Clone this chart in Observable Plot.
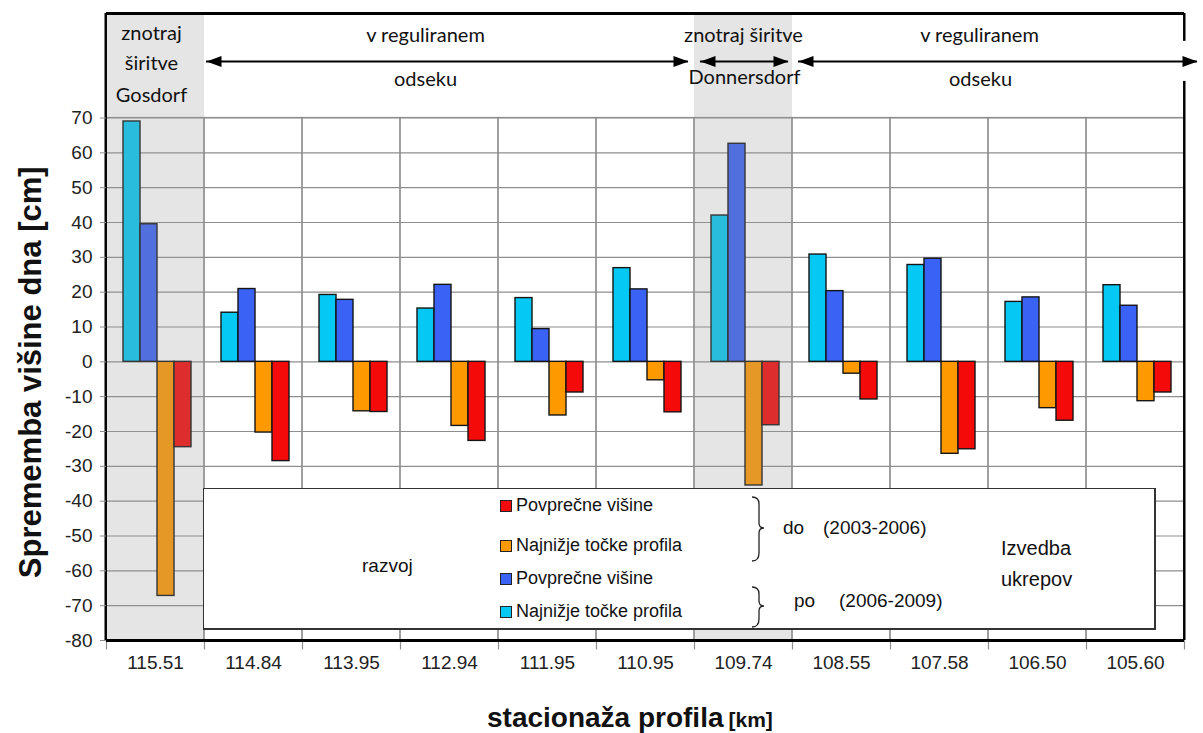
<!DOCTYPE html>
<html><head><meta charset="utf-8">
<script src="https://cdn.jsdelivr.net/npm/d3@7"></script>
<script src="https://cdn.jsdelivr.net/npm/@observablehq/plot@0.6"></script>
<style>
body{margin:0;background:#fff;}
#wrap{position:relative;width:1203px;height:733px;font-family:"Liberation Sans",Arial,sans-serif;color:#111;}
#wrap svg{position:absolute;left:0;top:0;}
#legend{position:absolute;left:203px;top:488px;width:953px;height:142px;background:#fff;border:1.5px solid #333;border-right-width:2.5px;border-bottom-width:2px;box-sizing:border-box;}
#legend .t{position:absolute;white-space:nowrap;font-size:18px;line-height:20px;}
#legend .sw{position:absolute;width:10px;height:10px;border:1px solid #222;}
#legend svg{position:absolute;}
</style></head>
<body><div id="wrap"><div id="legend"></div></div>
<script>
// ---- data ----
const stations = ["115.51","114.84","113.95","112.94","111.95","110.95","109.74","108.55","107.58","106.50","105.60"];
const seriesKeys = ["poNajnizje","poPovprecne","doNajnizje","doPovprecne"];
const seriesLabels = ["Najnižje točke profila","Povprečne višine","Najnižje točke profila","Povprečne višine"];
const seriesColors = ["#05c8f5","#3a62f5","#ff9900","#f50a0a"];
const poNajnizje  = [69.0, 14.1, 19.2, 15.3, 18.3, 26.9, 42.0, 30.8, 27.8, 17.2, 22.0];
const poPovprecne = [39.5, 20.9, 17.8, 22.1,  9.4, 20.8, 62.6, 20.3, 29.6, 18.5, 16.1];
const doNajnizje  = [-67.2, -20.3, -14.2, -18.4, -15.4, -5.3, -35.5, -3.4, -26.4, -13.3, -11.3];
const doPovprecne = [-24.5, -28.5, -14.4, -22.7, -8.8, -14.5, -18.2, -10.8, -25.1, -16.9, -8.8];
const yTicks = [-80,-70,-60,-50,-40,-30,-20,-10,0,10,20,30,40,50,60,70];
const shaded = ["115.51","109.74"];
const yTitle = "Sprememba višine dna [cm]";
const xTitle = "stacionaža profila";
const xUnit = "[km]";

const seriesValues = {poNajnizje, poPovprecne, doNajnizje, doPovprecne};
const table = stations.flatMap((s, i) => seriesKeys.map(k => ({station: s, series: k, value: seriesValues[k][i]})));

// ---- layout helpers ----
const W = 1203, H = 733, mL = 103, mR = 16, mT = 13, mB = 93;
const facetW = (W - mL - mR) / stations.length;
const headerFont = "Lato, 'Open Sans', sans-serif";
const arrowL = {draw(c){c.moveTo(0,0);c.lineTo(15,-5.5);c.lineTo(15,5.5);c.closePath();}};
const arrowR = {draw(c){c.moveTo(0,0);c.lineTo(-15,-5.5);c.lineTo(-15,5.5);c.closePath();}};
const vtick = {draw(c){c.moveTo(0,0);c.lineTo(0,9);}};
const grid = "#8e8e8e";
const arrowY = 86.2;

const headers = [
  {st:"115.51", text:"znotraj", y:94.3, dx:-4},
  {st:"115.51", text:"širitve", y:85.6, dx:-4},
  {st:"115.51", text:"Gosdorf", y:76.5, dx:-4},
  {st:"112.94", text:"v reguliranem", y:93.7, dx:-24},
  {st:"112.94", text:"odseku", y:81.0, dx:-24},
  {st:"109.74", text:"znotraj širitve", y:93.7, dx:0},
  {st:"109.74", text:"Donnersdorf", y:81.6, dx:1},
  {st:"106.50", text:"v reguliranem", y:93.7, dx:-58},
  {st:"106.50", text:"odseku", y:81.0, dx:-57}
];
const shafts = [
  {st:"114.84", l:2, r:0},{st:"113.95", l:0, r:0},{st:"112.94", l:0, r:0},{st:"111.95", l:0, r:0},{st:"110.95", l:0, r:6},
  {st:"109.74", l:6, r:4},
  {st:"108.55", l:6, r:0},{st:"107.58", l:0, r:0},{st:"106.50", l:0, r:0},{st:"105.60", l:0, r:-13}
];
const headsL = [{st:"114.84", dx:2},{st:"109.74", dx:6},{st:"108.55", dx:6}];
const headsR = [{st:"110.95", dx:-6},{st:"109.74", dx:-4},{st:"105.60", dx:13}];

const marks = [
  Plot.ruleY(yTicks, {stroke: grid, strokeWidth: 1.2}),
  Plot.rect(stations, {fx: d => d, y1: -80, y2: 70, stroke: grid, strokeWidth: 1.2, fill: "none"}),
  Plot.dot(stations, {fx: d => d, y: -80, frameAnchor: "left", symbol: vtick, stroke: grid, strokeWidth: 1.2, fill: "none"}),
  Plot.dot([stations[stations.length-1]], {fx: d => d, y: -80, frameAnchor: "right", symbol: vtick, stroke: grid, strokeWidth: 1.2, fill: "none"}),
  Plot.barY(table, {fx: "station", x: "series", y: "value", fill: "series", stroke: "#151515", strokeWidth: 1.4}),
  Plot.rect(shaded, {fx: d => d, y1: -80, y2: 100, fill: "#999", fillOpacity: 0.25}),
  Plot.ruleY([100], {stroke: "#000", strokeWidth: 3}),
  Plot.ruleY([-80], {stroke: "#000", strokeWidth: 3}),
  Plot.rect([stations[0]], {fx: d => d, y1: -80, y2: 100, fill: "#000", insetLeft: -1.5, insetRight: facetW - 1.5}),
  Plot.rect([[-80, 80.5], [92, 100]], {fx: () => stations[stations.length-1], y1: d => d[0], y2: d => d[1], fill: "#000", insetLeft: facetW - 1.5, insetRight: -1.5}),
  ...headers.map(h => Plot.text([h], {fx: d => d.st, y: "y", text: "text", dx: h.dx, fontSize: 20, fontFamily: headerFont, fill: "#111"})),
  ...shafts.map(s => Plot.ruleY([s], {fx: d => d.st, y: () => arrowY, insetLeft: s.l, insetRight: s.r, stroke: "#000", strokeWidth: 2})),
  ...headsL.map(h => Plot.dot([h], {fx: d => d.st, y: () => arrowY, frameAnchor: "left", dx: h.dx, symbol: arrowL, fill: "#000", stroke: "none"})),
  ...headsR.map(h => Plot.dot([h], {fx: d => d.st, y: () => arrowY, frameAnchor: "right", dx: h.dx, symbol: arrowR, fill: "#000", stroke: "none"})),
  Plot.axisY({ticks: yTicks, tickFormat: d => String(d), tickSize: 6, tickPadding: 8, fontSize: 19, stroke: grid, fill: "#222", label: null}),
  Plot.axisFx({anchor: "bottom", tickSize: 0, tickPadding: 15, fontSize: 19, fill: "#222", label: null}),
  Plot.text([yTitle], {fx: () => stations[0], y: () => -3, frameAnchor: "left", dx: -75, rotate: -90, textAnchor: "middle", text: d => d, fontSize: 31, fontWeight: "bold", fill: "#111"}),
  Plot.text([xTitle], {fx: () => stations[6], frameAnchor: "bottom-left", dx: 29, dy: 86, lineAnchor: "bottom", textAnchor: "end", text: d => d, fontSize: 28, fontWeight: "bold", fill: "#111"}),
  Plot.text([xUnit], {fx: () => stations[6], frameAnchor: "bottom-left", dx: 34, dy: 86, lineAnchor: "bottom", textAnchor: "start", text: d => d, fontSize: 21, fontWeight: "bold", fill: "#111"})
];

const chart = Plot.plot({
  width: W, height: H, marginLeft: mL, marginRight: mR, marginTop: mT, marginBottom: mB,
  style: {fontFamily: "'Liberation Sans', Arial, sans-serif", background: "transparent", overflow: "visible"},
  fx: {domain: stations, padding: 0, label: null},
  x: {domain: seriesKeys, paddingInner: 0, paddingOuter: 0.736, align: 0.566, axis: null},
  y: {domain: [-80, 100], label: null},
  color: {domain: seriesKeys, range: seriesColors},
  marks
});
const wrap = document.getElementById("wrap");
wrap.insertBefore(chart, wrap.firstChild);

// ---- legend (overlay box) ----
const lg = document.getElementById("legend");
function addText(txt, left, top, size) {
  const d = document.createElement("div");
  d.className = "t"; d.textContent = txt;
  d.style.left = left + "px"; d.style.top = top + "px";
  if (size) { d.style.fontSize = size + "px"; d.style.lineHeight = (size + 2) + "px"; }
  lg.appendChild(d);
}
const legendRows = [
  {key: "doPovprecne", cy: 17},
  {key: "doNajnizje", cy: 57},
  {key: "poPovprecne", cy: 90},
  {key: "poNajnizje", cy: 123}
];
legendRows.forEach(r => {
  const i = seriesKeys.indexOf(r.key);
  const sw = document.createElement("div");
  sw.className = "sw"; sw.style.left = "296px"; sw.style.top = (r.cy - 6) + "px";
  sw.style.background = seriesColors[i];
  lg.appendChild(sw);
  addText(seriesLabels[i], 312, r.cy - 11);
});
addText("razvoj", 158, 66, 19);
addText("do", 579, 28, 19);
addText("(2003-2006)", 619, 28, 19);
addText("po", 590, 101, 19);
addText("(2006-2009)", 635, 101, 19);
addText("Izvedba", 797, 48, 20);
addText("ukrepov", 797, 79, 20);
function brace(top, h) {
  const s = document.createElementNS("http://www.w3.org/2000/svg", "svg");
  s.setAttribute("width", 16); s.setAttribute("height", h + 2);
  s.style.left = "547px"; s.style.top = top + "px";
  const p = document.createElementNS("http://www.w3.org/2000/svg", "path");
  const m = h / 2;
  p.setAttribute("d", `M1,1 Q8,1 8,8 L8,${m-5} Q8,${m} 13,${m} Q8,${m} 8,${m+5} L8,${h-7} Q8,${h+1} 1,${h+1}`);
  p.setAttribute("fill", "none"); p.setAttribute("stroke", "#222"); p.setAttribute("stroke-width", "1.3");
  s.appendChild(p); lg.appendChild(s);
}
brace(7, 64);
brace(97, 40);
</script>
</body></html>
